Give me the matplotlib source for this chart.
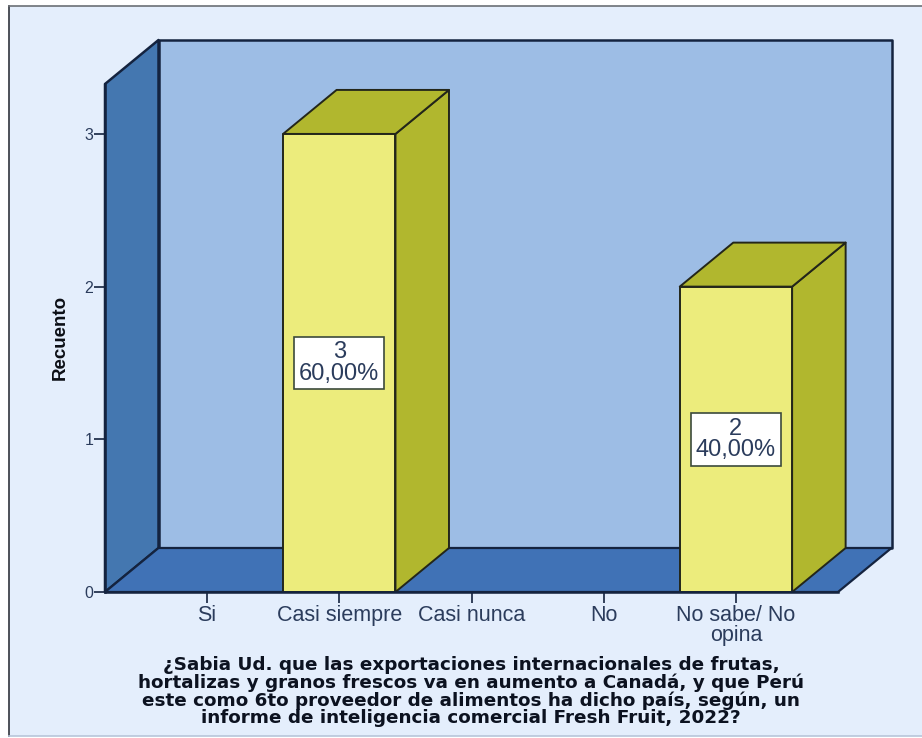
import matplotlib
matplotlib.use('Agg')
import matplotlib.pyplot as plt
from matplotlib.lines import Line2D
from matplotlib.patches import Polygon, Rectangle

categories = ['Si', 'Casi siempre', 'Casi nunca', 'No', 'No sabe/ No\nopina']
counts = [0, 3, 0, 0, 2]
percents = ['', '60,00%', '', '', '40,00%']
y_ticks = [0, 1, 2, 3]
question = ('¿Sabia Ud. que las exportaciones internacionales de frutas,\n'
            'hortalizas y granos frescos va en aumento a Canadá, y que Perú\n'
            'este como 6to proveedor de alimentos ha dicho país, según, un\n'
            'informe de inteligencia comercial Fresh Fruit, 2022?')

W, H = 922, 738
LINE = '#14233f'
BAR_LINE = '#23261a'
TEXT = '#2b3c5c'

fig = plt.figure(figsize=(W / 100, H / 100), dpi=100, facecolor='white')

# Chart panel, kept behind the axes
fig.add_artist(Rectangle((8.5 / W, 1 - 736 / H), 914 / W, 730.5 / H, transform=fig.transFigure,
                         facecolor='#e4eefc', edgecolor='none', zorder=-2))


def panel_edge(x, y, color):
    fig.add_artist(Line2D([v / W for v in x], [1 - v / H for v in y], color=color,
                          linewidth=1.2, zorder=-1))


panel_edge([8.5, 8.5], [5.5, 736], '#30343c')
panel_edge([8.5, 922], [5.5, 5.5], '#6b6f75')
panel_edge([8.5, 922], [736, 736], '#b8c6da')

ax = fig.add_axes([105 / W, 1 - 592 / H, 733 / W, 508 / H])
ax.patch.set_visible(False)

xmin, xmax = -0.772, 4.772
ymin, ymax = 0, 3.327
ax.set_xlim(xmin, xmax)
ax.set_ylim(ymin, ymax)

# Depth of the 3D effect, in data units
dx = 53.5 / 132.2
dy = 44 / 152.67
bar_width = 0.85


def poly(points, color, lw=1.4, edge=LINE, z=1):
    ax.add_patch(Polygon(points, closed=True, facecolor=color, edgecolor=edge,
                         linewidth=lw, clip_on=False, zorder=z, joinstyle='round'))


# Back wall, left wall and floor
poly([(xmin + dx, ymin + dy), (xmax + dx, ymin + dy), (xmax + dx, ymax + dy), (xmin + dx, ymax + dy)],
     '#9dbde5', lw=1.8)
poly([(xmin, ymin), (xmin + dx, ymin + dy), (xmin + dx, ymax + dy), (xmin, ymax)], '#4477b0', lw=1.8)
poly([(xmin, ymin), (xmax, ymin), (xmax + dx, ymin + dy), (xmin + dx, ymin + dy)], '#4072b6', lw=1.6)

# Bars, each with front, side and top faces
for i, (c, pct) in enumerate(zip(counts, percents)):
    if c == 0:
        continue
    x0 = i - bar_width / 2
    x1 = i + bar_width / 2
    poly([(x1, 0), (x1 + dx, dy), (x1 + dx, c + dy), (x1, c)], '#b1b72e', edge=BAR_LINE, z=3)
    poly([(x0, c), (x1, c), (x1 + dx, c + dy), (x0 + dx, c + dy)], '#b1b72e', edge=BAR_LINE, z=3)
    poly([(x0, 0), (x1, 0), (x1, c), (x0, c)], '#ecec7c', edge=BAR_LINE, z=4)
    ax.text(i, c / 2, f'{c}\n{pct}', ha='center', va='center', fontsize=17,
            family='Liberation Sans', color=TEXT, linespacing=0.95, zorder=6,
            bbox=dict(boxstyle='square,pad=0.2', facecolor='white', edgecolor='#3c4a3c', linewidth=1.2))

# Axes lines and ticks
for side in ['top', 'right']:
    ax.spines[side].set_visible(False)
for side in ['left', 'bottom']:
    ax.spines[side].set_color(LINE)
    ax.spines[side].set_linewidth(1.8)
    ax.spines[side].set_zorder(5)

ax.set_xticks(range(len(categories)))
ax.set_xticklabels(categories, family='Liberation Sans', fontsize=15.5, color=TEXT, linespacing=0.93)
ax.set_yticks(y_ticks)
ax.set_yticklabels([str(t) for t in y_ticks], family='Liberation Sans', fontsize=11.5, color=TEXT)
ax.tick_params(axis='x', length=8, width=1.2, color=LINE, pad=1.5)
ax.tick_params(axis='y', length=8, width=1.2, color=LINE, pad=0.5)

fig.text(60 / W, 1 - 337 / H, 'Recuento', rotation=90, ha='center', va='center',
         family='Liberation Sans', fontweight='bold', fontsize=13.5, color='#0c0f16')

fig.text(471 / W, 1 - 691.5 / H, question, ha='center', va='center', multialignment='center',
         family='DejaVu Sans', fontweight='bold', fontsize=13.2, color='#0c1220', linespacing=0.95)

fig.savefig('out.png', dpi=100, facecolor=fig.get_facecolor())
